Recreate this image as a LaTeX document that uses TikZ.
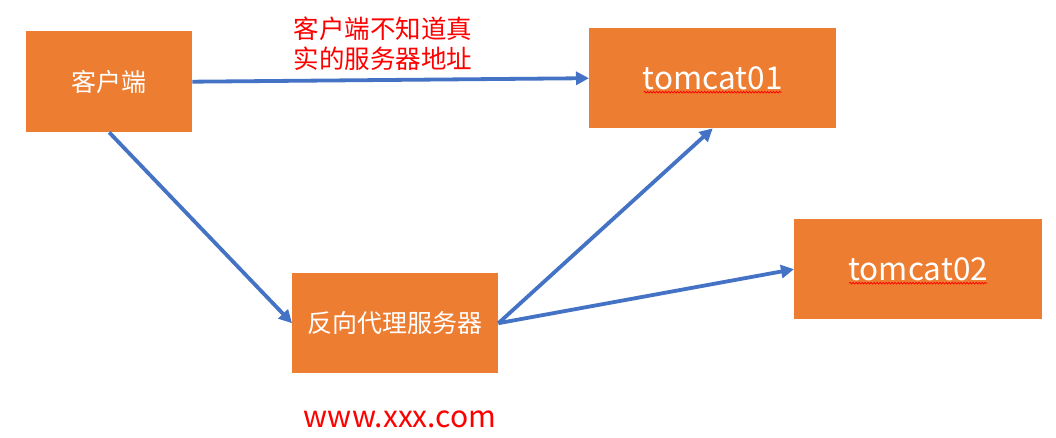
\documentclass[tikz,border=0pt]{standalone}
\usepackage{fontspec}
\setmainfont{Noto Sans CJK SC}
\usetikzlibrary{arrows.meta,decorations.pathmorphing}
\definecolor{boxorange}{HTML}{ED7D31}
\definecolor{arrowblue}{HTML}{4472C4}
\definecolor{labelred}{HTML}{FF0000}
\tikzset{
  box/.style={fill=boxorange, draw=none, text=white, inner sep=0pt, anchor=north west,
    font=\fontsize{25}{28}\selectfont},
  latinbox/.style={box, font=\fontsize{31.5}{34}\selectfont},
  conn/.style={draw=arrowblue, line width=3.8pt, -{Triangle[length=13pt,width=13pt]}},
  squiggle/.style={draw=red, line width=0.7pt, decorate,
    decoration={snake, amplitude=0.9pt, segment length=3pt}},
  redtext/.style={text=labelred, inner sep=0pt}
}
\begin{document}
\begin{tikzpicture}[x=1pt,y=-1pt]
\useasboundingbox[fill=white] (0,0) rectangle (1056,438);
\node[box, minimum width=166pt, minimum height=101pt] (client) at (26,31) {客户端};
\node[latinbox, minimum width=247pt, minimum height=100pt] (t1) at (589,28) {tomcat01};
\node[latinbox, minimum width=248pt, minimum height=100pt] (t2) at (794,219) {tomcat02};
\node[box, minimum width=206pt, minimum height=100pt] (proxy) at (292,273) {反向代理服务器};
\node[redtext, font=\fontsize{25.5}{30}\selectfont, align=center] (note) at (383,44)
  {客户端不知道真\\实的服务器地址};
\node[redtext, font=\fontsize{30}{32}\selectfont] (url) at (400,419) {www.xxx.com};
\coordinate (s1a) at ([xshift=-69pt,yshift=-14pt]t1.center);
\coordinate (s1b) at ([xshift=69pt,yshift=-14pt]t1.center);
\coordinate (s2a) at ([xshift=-69pt,yshift=-14pt]t2.center);
\coordinate (s2b) at ([xshift=69pt,yshift=-14pt]t2.center);
\draw[squiggle] (s1a) -- (s1b);
\draw[squiggle] (s2a) -- (s2b);
\draw[conn] (client.east) -- (t1.west);
\draw[conn] (client.south) -- (proxy.west);
\draw[conn] (proxy.east) -- (t1.south);
\draw[conn] (proxy.east) -- (t2.west);
\end{tikzpicture}
\end{document}
